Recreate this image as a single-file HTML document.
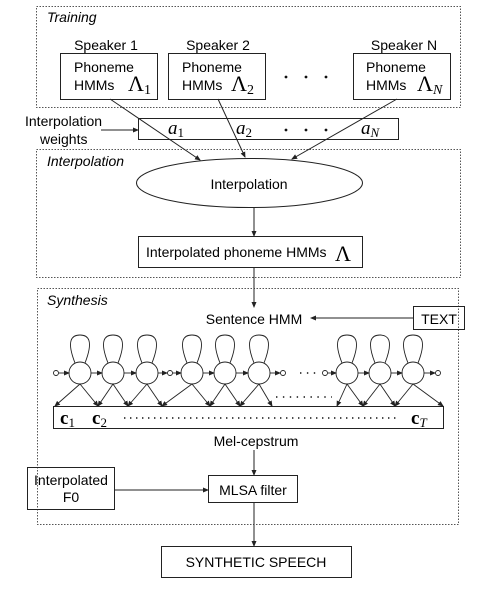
<!DOCTYPE html>
<html><head><style>body{margin:0;background:#fff}svg{display:block}</style></head><body>
<svg width="495" height="595" viewBox="0 0 495 595" xmlns="http://www.w3.org/2000/svg" font-family="Liberation Sans, sans-serif" font-size="14">
<defs><marker id="a" markerWidth="6" markerHeight="6" refX="5" refY="3" orient="auto" markerUnits="userSpaceOnUse"><path d="M0,0.5 L6,3 L0,5.5 z" fill="#222"/></marker></defs>
<g fill="none" stroke="#555" stroke-dasharray="1.5,1.5">
<rect x="36.5" y="6.5" width="424" height="101"/>
<rect x="36.5" y="149.5" width="424" height="128"/>
<rect x="37.5" y="288.5" width="421" height="236"/>
</g>
<g font-style="italic" font-size="14"><text x="47" y="22">Training</text><text x="47" y="166">Interpolation</text><text x="47" y="305">Synthesis</text></g>
<g fill="none" stroke="#222" stroke-width="1">
<rect x="60.5" y="53.5" width="97" height="46"/>
<rect x="168.5" y="53.5" width="97" height="46"/>
<rect x="353.5" y="53.5" width="97" height="46"/>
<rect x="138.5" y="118.5" width="260" height="21"/>
<ellipse cx="249.5" cy="183" rx="113" ry="24.5"/>
<rect x="138.5" y="236.5" width="224" height="31"/>
<rect x="413.5" y="306.5" width="51" height="23"/>
<rect x="53.5" y="406.5" width="390" height="22"/>
<rect x="27.5" y="467.5" width="87" height="42"/>
<rect x="208.5" y="475.5" width="89" height="27"/>
<rect x="161.5" y="546.5" width="190" height="31"/>
<line x1="110" y1="99" x2="200" y2="160" marker-end="url(#a)"/>
<line x1="218" y1="99" x2="245" y2="157" marker-end="url(#a)"/>
<line x1="397" y1="99" x2="292" y2="159" marker-end="url(#a)"/>
<line x1="101" y1="130" x2="138" y2="130" marker-end="url(#a)"/>
<line x1="254" y1="208" x2="254" y2="236" marker-end="url(#a)"/>
<line x1="254" y1="268" x2="254" y2="307" marker-end="url(#a)"/>
<line x1="413" y1="318" x2="311" y2="318" marker-end="url(#a)"/>
<line x1="254" y1="450" x2="254" y2="475" marker-end="url(#a)"/>
<line x1="115" y1="490" x2="208" y2="490" marker-end="url(#a)"/>
<line x1="254" y1="503" x2="254" y2="546" marker-end="url(#a)"/>
</g>
<g text-anchor="middle">
<text x="106" y="50">Speaker 1</text><text x="218" y="50">Speaker 2</text><text x="404" y="50">Speaker N</text>
</g>
<g>
<text x="74" y="72">Phoneme</text><text x="74" y="90">HMMs</text>
<text x="182" y="72">Phoneme</text><text x="182" y="90">HMMs</text>
<text x="366" y="72">Phoneme</text><text x="366" y="90">HMMs</text>
</g>
<g font-family="Liberation Serif, serif" font-size="22">
<text x="128" y="91">Λ<tspan font-size="14" dy="3">1</tspan></text>
<text x="231" y="91">Λ<tspan font-size="14" dy="3">2</tspan></text>
<text x="417" y="91">Λ<tspan font-size="14" dy="3" font-style="italic">N</tspan></text>
<text x="335" y="261">Λ</text>
</g>
<g fill="#111"><circle cx="286" cy="77" r="1.4"/><circle cx="306" cy="77" r="1.4"/><circle cx="326" cy="77" r="1.4"/>
<circle cx="286" cy="130" r="1.4"/><circle cx="306" cy="130" r="1.4"/><circle cx="326" cy="130" r="1.4"/></g>
<g font-family="Liberation Serif, serif" font-style="italic" font-size="19">
<text x="168" y="134">a<tspan font-style="normal" font-size="13" dy="3">1</tspan></text>
<text x="236" y="134">a<tspan font-style="normal" font-size="13" dy="3">2</tspan></text>
<text x="361" y="134">a<tspan font-size="13" dy="3">N</tspan></text>
</g>
<text x="25" y="126">Interpolation</text><text x="40" y="144">weights</text>
<text x="249" y="189" text-anchor="middle">Interpolation</text>
<text x="146" y="257">Interpolated phoneme HMMs</text>
<text x="254" y="324" text-anchor="middle">Sentence HMM</text>
<text x="439" y="324" text-anchor="middle">TEXT</text>
<text x="256" y="446" text-anchor="middle">Mel-cepstrum</text>
<text x="71" y="485" text-anchor="middle">Interpolated</text><text x="71" y="502" text-anchor="middle">F0</text>
<text x="253" y="495" text-anchor="middle">MLSA filter</text>
<text x="256" y="567" text-anchor="middle">SYNTHETIC SPEECH</text>
<g font-family="Liberation Serif, serif" font-weight="bold" font-size="19">
<text x="60" y="424">c<tspan font-weight="normal" font-size="13" dy="3">1</tspan></text>
<text x="92" y="424">c<tspan font-weight="normal" font-size="13" dy="3">2</tspan></text>
<text x="411" y="424">c<tspan font-weight="normal" font-style="italic" font-size="13" dy="3">T</tspan></text>
</g>
<line x1="124" y1="418" x2="400" y2="418" stroke="#111" stroke-width="1.6" stroke-dasharray="1.4,4.6"/>
<line x1="276" y1="397" x2="332" y2="397" stroke="#111" stroke-width="1.6" stroke-dasharray="1.4,5.5"/>
<line x1="300" y1="373" x2="320" y2="373" stroke="#111" stroke-width="1.6" stroke-dasharray="1.4,5.5"/>
<g fill="none" stroke="#222" stroke-width="0.9">
<path d="M75,363 C66,340 72,335 80,335 C88,335 94,340 85,363"/>
<path d="M108,363 C99,340 105,335 113,335 C121,335 127,340 118,363"/>
<path d="M142,363 C133,340 139,335 147,335 C155,335 161,340 152,363"/>
<path d="M187,363 C178,340 184,335 192,335 C200,335 206,340 197,363"/>
<path d="M220,363 C211,340 217,335 225,335 C233,335 239,340 230,363"/>
<path d="M254,363 C245,340 251,335 259,335 C267,335 273,340 264,363"/>
<path d="M342,363 C333,340 339,335 347,335 C355,335 361,340 352,363"/>
<path d="M375,363 C366,340 372,335 380,335 C388,335 394,340 385,363"/>
<path d="M408,363 C399,340 405,335 413,335 C421,335 427,340 418,363"/>
<circle cx="80" cy="373" r="11"/><circle cx="113" cy="373" r="11"/><circle cx="147" cy="373" r="11"/>
<circle cx="192" cy="373" r="11"/><circle cx="225" cy="373" r="11"/><circle cx="259" cy="373" r="11"/>
<circle cx="347" cy="373" r="11"/><circle cx="380" cy="373" r="11"/><circle cx="413" cy="373" r="11"/>
<circle cx="56" cy="373" r="2.5"/><circle cx="170" cy="373" r="2.5"/><circle cx="283" cy="373" r="2.5"/><circle cx="325" cy="373" r="2.5"/><circle cx="438" cy="373" r="2.5"/>
<line x1="59" y1="373" x2="69" y2="373" marker-end="url(#a)"/>
<line x1="91" y1="373" x2="102" y2="373" marker-end="url(#a)"/>
<line x1="124" y1="373" x2="136" y2="373" marker-end="url(#a)"/>
<line x1="158" y1="373" x2="167" y2="373" marker-end="url(#a)"/>
<line x1="173" y1="373" x2="181" y2="373" marker-end="url(#a)"/>
<line x1="203" y1="373" x2="214" y2="373" marker-end="url(#a)"/>
<line x1="236" y1="373" x2="248" y2="373" marker-end="url(#a)"/>
<line x1="270" y1="373" x2="280" y2="373" marker-end="url(#a)"/>
<line x1="328" y1="373" x2="336" y2="373" marker-end="url(#a)"/>
<line x1="358" y1="373" x2="369" y2="373" marker-end="url(#a)"/>
<line x1="391" y1="373" x2="402" y2="373" marker-end="url(#a)"/>
<line x1="424" y1="373" x2="435" y2="373" marker-end="url(#a)"/>
<line x1="80" y1="384" x2="55" y2="406" marker-end="url(#a)"/><line x1="80" y1="384" x2="98" y2="406" marker-end="url(#a)"/>
<line x1="113" y1="384" x2="98" y2="406" marker-end="url(#a)"/><line x1="113" y1="384" x2="128" y2="406" marker-end="url(#a)"/>
<line x1="147" y1="384" x2="128" y2="406" marker-end="url(#a)"/><line x1="147" y1="384" x2="162" y2="406" marker-end="url(#a)"/>
<line x1="192" y1="384" x2="162" y2="406" marker-end="url(#a)"/><line x1="192" y1="384" x2="210" y2="406" marker-end="url(#a)"/>
<line x1="225" y1="384" x2="210" y2="406" marker-end="url(#a)"/><line x1="225" y1="384" x2="240" y2="406" marker-end="url(#a)"/>
<line x1="259" y1="384" x2="240" y2="406" marker-end="url(#a)"/><line x1="259" y1="384" x2="272" y2="406" marker-end="url(#a)"/>
<line x1="347" y1="384" x2="337" y2="406" marker-end="url(#a)"/><line x1="347" y1="384" x2="363" y2="406" marker-end="url(#a)"/>
<line x1="380" y1="384" x2="363" y2="406" marker-end="url(#a)"/><line x1="380" y1="384" x2="395" y2="406" marker-end="url(#a)"/>
<line x1="413" y1="384" x2="395" y2="406" marker-end="url(#a)"/><line x1="413" y1="384" x2="443" y2="406" marker-end="url(#a)"/>
</g>
</svg>
</body></html>
